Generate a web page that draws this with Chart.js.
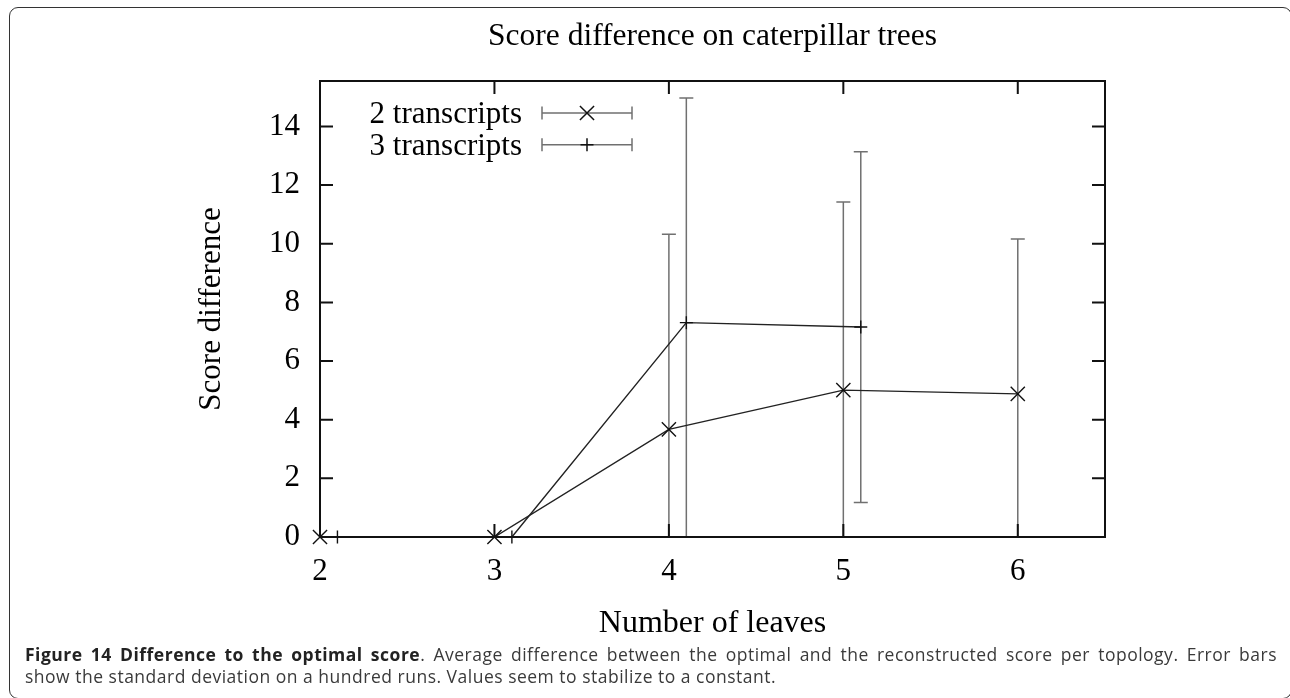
<!DOCTYPE html>
<html>
<head>
<meta charset="utf-8">
<script src="https://cdn.jsdelivr.net/npm/chart.js@4.4.1/dist/chart.umd.min.js"></script>
<style>
  html, body { margin: 0; padding: 0; background: #fff; overflow: hidden; }
  #wrap { position: relative; width: 1290px; height: 698px; }
  #frame {
    position: absolute; left: 9px; top: 7px; width: 1283px; height: 692px;
    box-sizing: border-box; border: 1.5px solid #333; border-radius: 9px;
  }
  canvas { position: absolute; left: 0; top: 0; }
  #caption {
    position: absolute; left: 25px; top: 644px; width: 1252px;
    font-family: 'Open Sans', sans-serif; font-size: 17.5px; line-height: 21.5px;
    letter-spacing: 0.5px; color: #3a3a3a;
  }
  #caption .l1 { text-align: justify; text-align-last: justify; }
  #caption b { color: #222; }
</style>
</head>
<body>
<div id="wrap">
  <div id="frame"></div>
  <canvas id="chart" width="1290" height="698"></canvas>
  <div id="caption">
    <div class="l1"><b>Figure 14 Difference to the optimal score</b>. Average difference between the optimal and the reconstructed score per topology. Error bars</div>
    <div>show the standard deviation on a hundred runs. Values seem to stabilize to a constant.</div>
  </div>
</div>
<script>
// ── Data ─────────────────────────────────────────
const leaves = [2, 3, 4, 5, 6];
const twoMean = [0, 0, 3.67, 5.01, 4.88];
const twoSd = [0, 0, 6.65, 6.41, 5.28];
const threeLeaves = [2, 3, 4, 5];
const threeMean = [0, 0, 7.31, 7.16];
const threeSd = [0, 0, 7.66, 5.98];
const xTicks = [2, 3, 4, 5, 6];
const yTicks = [0, 2, 4, 6, 8, 10, 12, 14];
const seriesNames = ['2 transcripts', '3 transcripts'];
const chartTitle = 'Score difference on caterpillar trees';

// gnuplot draws the second series slightly to the right
const SHIFT = 0.1;
const SERIF = "'Liberation Serif', 'DejaVu Serif', serif";

Chart.defaults.font.family = SERIF;
Chart.defaults.color = '#000';

// ── Error bars (behind the lines) ────────────────
const errorBars = {
    id: 'errorBars',
    beforeDatasetsDraw(chart) {
        const { ctx, chartArea: a, scales: { x, y } } = chart;
        ctx.save();
        ctx.beginPath();
        ctx.rect(a.left, a.top, a.width, a.height);
        ctx.clip();
        ctx.strokeStyle = '#707070';
        ctx.lineWidth = 1.5;
        chart.data.datasets.forEach(ds => {
            ds.data.forEach((p, i) => {
                const sd = ds.errors[i];
                if (!sd) return;
                const px = x.getPixelForValue(p.x);
                const top = y.getPixelForValue(p.y + sd);
                const bot = y.getPixelForValue(p.y - sd);
                ctx.beginPath();
                ctx.moveTo(px, top); ctx.lineTo(px, bot);
                ctx.moveTo(px - 7, top); ctx.lineTo(px + 7, top);
                ctx.moveTo(px - 7, bot); ctx.lineTo(px + 7, bot);
                ctx.stroke();
            });
        });
        ctx.restore();
    }
};

// ── Frame with inward ticks, plus the title ──────
const frame = {
    id: 'frame',
    afterDraw(chart) {
        const { ctx, chartArea: a, scales: { x, y } } = chart;
        const T = 13;
        ctx.save();
        ctx.strokeStyle = '#111';
        ctx.lineWidth = 2;
        ctx.strokeRect(a.left, a.top, a.width, a.height);
        ctx.beginPath();
        xTicks.forEach(v => {
            const px = x.getPixelForValue(v);
            ctx.moveTo(px, a.bottom); ctx.lineTo(px, a.bottom - T);
            ctx.moveTo(px, a.top); ctx.lineTo(px, a.top + T);
        });
        yTicks.forEach(v => {
            const py = y.getPixelForValue(v);
            ctx.moveTo(a.left, py); ctx.lineTo(a.left + T, py);
            ctx.moveTo(a.right, py); ctx.lineTo(a.right - T, py);
        });
        ctx.stroke();

        ctx.fillStyle = '#000';
        ctx.font = '31.5px ' + SERIF;
        ctx.textAlign = 'center';
        ctx.textBaseline = 'alphabetic';
        ctx.fillText(chartTitle, (a.left + a.right) / 2, a.top - 36);
        ctx.restore();
    }
};

// ── gnuplot style key, top left inside ───────────
const key = {
    id: 'key',
    afterDraw(chart) {
        const { ctx, chartArea: a } = chart;
        ctx.save();
        ctx.font = '31px ' + SERIF;
        ctx.textAlign = 'right';
        ctx.textBaseline = 'alphabetic';
        chart.data.datasets.forEach((ds, i) => {
            const rowY = a.top + 32 + i * 31.7;
            const textRight = a.left + 202;
            const x0 = a.left + 222, x1 = a.left + 312, xm = (x0 + x1) / 2;
            ctx.fillStyle = '#000';
            ctx.fillText(ds.label, textRight, rowY + 10);
            ctx.strokeStyle = '#707070';
            ctx.lineWidth = 1.5;
            ctx.beginPath();
            ctx.moveTo(x0, rowY); ctx.lineTo(x1, rowY);
            ctx.moveTo(x0, rowY - 6.5); ctx.lineTo(x0, rowY + 6.5);
            ctx.moveTo(x1, rowY - 6.5); ctx.lineTo(x1, rowY + 6.5);
            ctx.stroke();
            ctx.strokeStyle = '#111';
            Chart.helpers.drawPoint(ctx, {
                pointStyle: ds.pointStyle, radius: ds.pointRadius,
                borderWidth: ds.borderWidth, rotation: 0
            }, xm, rowY);
        });
        ctx.restore();
    }
};

new Chart(document.getElementById('chart'), {
    type: 'line',
    data: {
        datasets: [
            {
                label: seriesNames[0],
                data: leaves.map((v, i) => ({ x: v, y: twoMean[i] })),
                errors: twoSd,
                borderColor: '#222',
                borderWidth: 1.4,
                pointStyle: 'crossRot',
                pointRadius: 10,
                pointBorderColor: '#111',
                pointBorderWidth: 1.4,
                clip: false,
                tension: 0
            },
            {
                label: seriesNames[1],
                data: threeLeaves.map((v, i) => ({ x: v + SHIFT, y: threeMean[i] })),
                errors: threeSd,
                borderColor: '#222',
                borderWidth: 1.4,
                pointStyle: 'cross',
                pointRadius: 6.5,
                pointBorderColor: '#111',
                pointBorderWidth: 1.4,
                clip: false,
                tension: 0
            }
        ]
    },
    options: {
        responsive: false,
        animation: false,
        devicePixelRatio: 1,
        layout: { padding: { left: 0, top: 81, right: 185, bottom: 48 } },
        plugins: {
            legend: { display: false },
            tooltip: { enabled: false },
            title: { display: false }
        },
        scales: {
            x: {
                type: 'linear',
                min: 2, max: 6.5,
                afterBuildTicks: s => { s.ticks = xTicks.map(v => ({ value: v })); },
                afterFit: s => { s.height = 113; },
                grid: { display: false, drawTicks: false },
                border: { display: false },
                ticks: { font: { size: 31 }, color: '#000', padding: 16, maxRotation: 0 },
                title: {
                    display: true, text: 'Number of leaves',
                    font: { size: 32 }, color: '#000',
                    padding: { top: 0, bottom: 7 }
                }
            },
            y: {
                type: 'linear',
                min: 0, max: 15.55,
                afterBuildTicks: s => { s.ticks = yTicks.map(v => ({ value: v })); },
                afterFit: s => { s.width = 320; },
                grid: { display: false, drawTicks: false },
                border: { display: false },
                ticks: { font: { size: 31 }, color: '#000', padding: 20 },
                title: {
                    display: true, text: 'Score difference',
                    font: { size: 31 }, color: '#000',
                    padding: { top: 193, bottom: 0 }
                }
            }
        }
    },
    plugins: [errorBars, frame, key]
});
</script>
</body>
</html>
